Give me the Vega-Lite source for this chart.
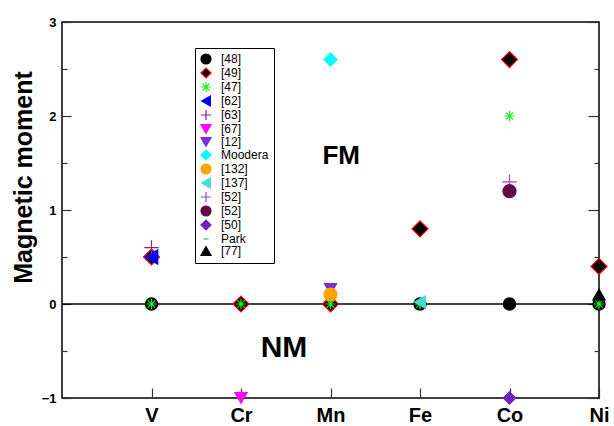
{
  "$schema": "https://vega.github.io/schema/vega-lite/v6.json",
  "width": 537,
  "height": 376,
  "autosize": {"type": "none"},
  "padding": {"left": 62, "top": 22, "right": 15, "bottom": 28},
  "background": "white",
  "config": {
    "font": "Liberation Sans",
    "view": {"stroke": "black", "strokeWidth": 1.5},
    "axis": {"domain": false, "grid": false, "tickColor": "#333", "tickWidth": 1.2, "labelColor": "black"},
    "legend": {
      "symbolSize": 100,
      "symbolStrokeWidth": 1.2,
      "labelFontSize": 12,
      "labelColor": "black",
      "labelOffset": 9,
      "labelLimit": 0,
      "rowPadding": -4
    }
  },
  "datasets": {
    "moments": [
      {"Z": 23, "m": 0, "src": "[48]"},
      {"Z": 26, "m": 0, "src": "[48]"},
      {"Z": 27, "m": 0, "src": "[48]"},
      {"Z": 28, "m": 0, "src": "[48]"},
      {"Z": 23, "m": 0.5, "src": "[49]"},
      {"Z": 24, "m": 0, "src": "[49]"},
      {"Z": 25, "m": 0, "src": "[49]"},
      {"Z": 26, "m": 0.8, "src": "[49]"},
      {"Z": 27, "m": 2.6, "src": "[49]"},
      {"Z": 28, "m": 0.4, "src": "[49]"},
      {"Z": 23, "m": 0, "src": "[47]"},
      {"Z": 24, "m": 0, "src": "[47]"},
      {"Z": 25, "m": 0, "src": "[47]"},
      {"Z": 26, "m": 0, "src": "[47]"},
      {"Z": 27, "m": 2.0, "src": "[47]"},
      {"Z": 28, "m": 0, "src": "[47]"},
      {"Z": 23, "m": 0.5, "src": "[62]"},
      {"Z": 23, "m": 0.6, "src": "[63]"},
      {"Z": 24, "m": -1, "src": "[67]"},
      {"Z": 25, "m": 0.16, "src": "[12]"},
      {"Z": 25, "m": 2.6, "src": "Moodera"},
      {"Z": 25, "m": 0.1, "src": "[132]"},
      {"Z": 26, "m": 0.02, "src": "[137]"},
      {"Z": 27, "m": 1.3, "src": "[52]"},
      {"Z": 27, "m": 1.2, "src": "[52] "},
      {"Z": 27, "m": -1, "src": "[50]"},
      {"Z": 28, "m": 0.1, "src": "[77]"}
    ]
  },
  "layer": [
    {
      "data": {"values": [{"m": 0}]},
      "mark": {"type": "rule", "color": "black", "strokeWidth": 1.3},
      "encoding": {
        "y": {
          "field": "m",
          "type": "quantitative",
          "scale": {"domain": [-1, 3], "nice": false, "zero": false},
          "axis": {
            "orient": "left",
            "values": [-1, 0, 1, 2, 3],
            "format": "d",
            "labelFontSize": 13,
            "labelFontWeight": "bold",
            "labelPadding": 15,
            "tickSize": -9,
            "title": "Magnetic moment",
            "titleFontSize": 25,
            "titleFontWeight": "bold",
            "titleColor": "black",
            "titleAngle": 270,
            "titleBaseline": "middle",
            "titleAlign": "center",
            "titleX": -39,
            "titleY": 155
          }
        }
      }
    },
    {
      "data": {"name": "moments"},
      "mark": {"type": "point", "filled": true, "opacity": 1, "strokeWidth": 1.2},
      "encoding": {
        "x": {
          "field": "Z",
          "type": "quantitative",
          "scale": {"domain": [22, 28], "nice": false, "zero": false},
          "axis": {
            "values": [23, 24, 25, 26, 27, 28],
            "labelExpr": "['V','Cr','Mn','Fe','Co','Ni'][datum.value - 23]",
            "labelFontSize": 20,
            "labelFontWeight": "bold",
            "labelFlush": false,
            "labelOverlap": false,
            "labelPadding": 17,
            "title": null,
            "tickSize": -10
          }
        },
        "y": {
          "field": "m",
          "type": "quantitative",
          "scale": {"domain": [-1, 3], "nice": false, "zero": false},
          "axis": {
            "orient": "left",
            "values": [-0.5, 0.5, 1.5, 2.5],
            "labels": false,
            "title": null,
            "tickSize": -5
          }
        },
        "shape": {
          "field": "src",
          "type": "nominal",
          "scale": {
            "domain": ["[48]", "[49]", "[47]", "[62]", "[63]", "[67]", "[12]", "Moodera", "[132]", "[137]", "[52]", "[52] ", "[50]", "Park", "[77]"],
            "range": [
              "circle",
              "diamond",
              "M-1,0L1,0M0,-1L0,1M-0.7,-0.7L0.7,0.7M-0.7,0.7L0.7,-0.7",
              "triangle-left",
              "M-1,0L1,0M0,-1L0,1",
              "triangle-down",
              "triangle-down",
              "diamond",
              "circle",
              "triangle-left",
              "M-1,0L1,0M0,-1L0,1",
              "circle",
              "diamond",
              "M-0.5,0L0.5,0",
              "triangle-up"
            ]
          },
          "legend": {
            "title": null,
            "orient": "none",
            "legendX": 133,
            "legendY": 26,
            "direction": "vertical",
            "strokeColor": "black",
            "fillColor": "white",
            "padding": 5
          }
        },
        "fill": {
          "field": "src",
          "type": "nominal",
          "scale": {
            "domain": ["[48]", "[49]", "[47]", "[62]", "[63]", "[67]", "[12]", "Moodera", "[132]", "[137]", "[52]", "[52] ", "[50]", "Park", "[77]"],
            "range": ["black", "black", "transparent", "#0000ff", "transparent", "#ff00ff", "#7b2fd0", "#00ffff", "#ffa500", "#40e0d0", "transparent", "#670748", "#7221bc", "transparent", "black"]
          }
        },
        "stroke": {
          "field": "src",
          "type": "nominal",
          "scale": {
            "domain": ["[48]", "[49]", "[47]", "[62]", "[63]", "[67]", "[12]", "Moodera", "[132]", "[137]", "[52]", "[52] ", "[50]", "Park", "[77]"],
            "range": ["black", "#ff0000", "#22ee22", "#0000ff", "#8b1f8b", "#ff00ff", "#7b2fd0", "#00ffff", "#ffa500", "#40e0d0", "#9a3fd6", "#670748", "#7221bc", "#33cc33", "black"]
          }
        },
        "size": {
          "condition": [
            {"test": "datum.src == '[49]'", "value": 256},
            {"test": "datum.src == '[63]' || datum.src == '[52]' || datum.src == '[62]'", "value": 210},
            {"test": "datum.src == 'Moodera' || datum.src == '[132]' || datum.src == '[52] '", "value": 170},
            {"test": "datum.src == '[47]'", "value": 110}
          ],
          "value": 150
        }
      }
    },
    {
      "data": {"values": [{"label": "FM", "Z": 25.12, "m": 1.57}]},
      "mark": {"type": "text", "fontSize": 26, "fontWeight": "bold", "color": "black", "baseline": "middle", "align": "center"},
      "encoding": {
        "x": {"field": "Z", "type": "quantitative"},
        "y": {
          "field": "m",
          "type": "quantitative",
          "axis": {"orient": "right", "values": [-1, 0, 1, 2, 3], "labels": false, "title": null, "tickSize": -11}
        },
        "text": {"field": "label"}
      }
    },
    {
      "data": {"values": [{"label": "NM", "Z": 24.48, "m": -0.47}]},
      "mark": {"type": "text", "fontSize": 30, "fontWeight": "bold", "color": "black", "baseline": "middle", "align": "center"},
      "encoding": {
        "x": {"field": "Z", "type": "quantitative"},
        "y": {
          "field": "m",
          "type": "quantitative",
          "axis": {"orient": "right", "values": [-0.5, 0.5, 1.5, 2.5], "labels": false, "title": null, "tickSize": -5}
        },
        "text": {"field": "label"}
      }
    }
  ],
  "resolve": {"axis": {"y": "independent"}}
}
